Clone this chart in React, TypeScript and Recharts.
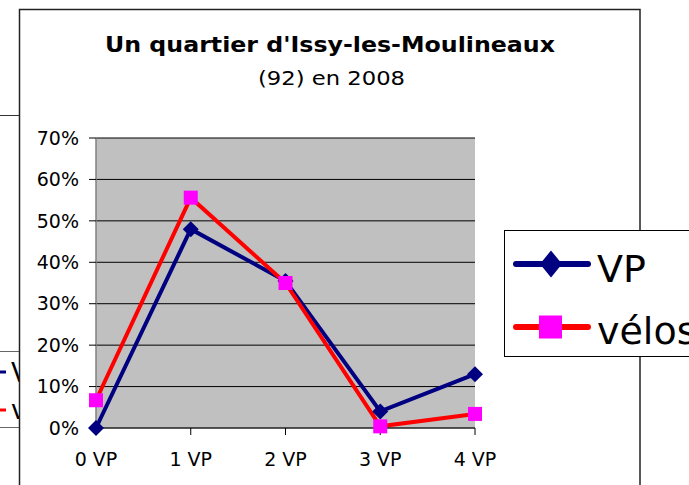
import React from "react";
import {
  LineChart,
  Line,
  XAxis,
  YAxis,
  CartesianGrid,
  Legend,
} from "recharts";

// valeurs (en %)
const categories = ["0 VP", "1 VP", "2 VP", "3 VP", "4 VP"];
const vpValues = [0, 48, 35.5, 4, 13];
const velosValues = [6.7, 55.6, 35, 0.4, 3.4];
const yTicks = [0, 10, 20, 30, 40, 50, 60, 70];

const FONT = "'DejaVu Sans', Verdana, sans-serif";

const data = categories.map((name, i) => ({
  name,
  vp: vpValues[i],
  velos: velosValues[i],
}));

const renderDiamond = (props: any) => {
  const { cx, cy, index } = props;
  if (cx == null || cy == null) return <g key={`vp-${index}`} />;
  return (
    <path
      key={`vp-${index}`}
      d={`M${cx},${cy - 8} L${cx + 8},${cy} L${cx},${cy + 8} L${cx - 8},${cy} Z`}
      fill="#000080"
    />
  );
};

const renderSquare = (props: any) => {
  const { cx, cy, index } = props;
  if (cx == null || cy == null) return <g key={`v-${index}`} />;
  return (
    <rect key={`v-${index}`} x={cx - 7} y={cy - 7} width={14} height={14} fill="#FF00FF" />
  );
};

const LegendBox = () => (
  <svg width={220} height={128} style={{ display: "block" }}>
    <rect x={0.5} y={0.5} width={219} height={126} fill="#fff" stroke="#000" />
    <line x1={12} y1={34} x2={84} y2={34} stroke="#000080" strokeWidth={6} strokeLinecap="round" />
    <path d="M47,20.5 L58,34 L47,47.5 L36,34 Z" fill="#000080" />
    <text x={93} y={52} fontSize={38} fontFamily={FONT} fill="#000">
      VP
    </text>
    <line x1={12} y1={97} x2={84} y2={97} stroke="#FF0000" strokeWidth={6} strokeLinecap="round" />
    <rect x={35} y={85.5} width={23} height={23} fill="#FF00FF" />
    <text x={93} y={114} fontSize={38} fontFamily={FONT} fill="#000">
      vélos
    </text>
  </svg>
);

export default function App() {
  return (
    <div
      style={{
        position: "fixed",
        left: 0,
        top: 0,
        width: 689,
        height: 485,
        overflow: "hidden",
        background: "#fff",
        fontFamily: FONT,
      }}
    >
      <svg width={689} height={485} style={{ position: "absolute", left: 0, top: 0 }}>
        {/* restes d'un autre graphique derrière */}
        <line x1={0} y1={115.5} x2={19} y2={115.5} stroke="#333" />
        <line x1={0} y1={351.5} x2={19} y2={351.5} stroke="#666" />
        <line x1={0} y1={427.5} x2={19} y2={427.5} stroke="#666" />
        <line x1={0} y1={372} x2={6} y2={372} stroke="#000080" strokeWidth={3} />
        <line x1={0} y1={410} x2={6} y2={410} stroke="#FF0000" strokeWidth={3} />
        <text x={11} y={382} fontSize={26} fontFamily={FONT}>V</text>
        <text x={11} y={419} fontSize={26} fontFamily={FONT}>v</text>
        {/* cadre */}
        <rect x={19.5} y={9.5} width={620.5} height={520} fill="#fff" stroke="#222" strokeWidth={1.5} />
        <text
          x={105}
          y={52}
          fontSize={21}
          fontWeight="bold"
          fontFamily={FONT}
          textLength={450}
          lengthAdjust="spacingAndGlyphs"
        >
          Un quartier d'Issy-les-Moulineaux
        </text>
        <text
          x={258}
          y={85}
          fontSize={19}
          fontFamily={FONT}
          textLength={147}
          lengthAdjust="spacingAndGlyphs"
        >
          (92) en 2008
        </text>
      </svg>
      <div style={{ position: "absolute", left: 0, top: 0 }}>
        <LineChart
          width={689}
          height={485}
          data={data}
          margin={{ top: 138, right: 214, left: 36, bottom: 7 }}
        >
          <CartesianGrid vertical={false} stroke="#000" fill="#C0C0C0" fillOpacity={1} />
          <XAxis
            dataKey="name"
            tick={{ fill: "#000", fontSize: 19, fontFamily: FONT }}
            tickSize={7}
            tickMargin={18}
            height={50}
            axisLine={{ stroke: "#333" }}
            tickLine={{ stroke: "#000" }}
            interval={0}
          />
          <XAxis xAxisId="top" orientation="top" height={0} tick={false} tickLine={false} axisLine={{ stroke: "#808080", strokeWidth: 1.5 }} />
          <YAxis
            domain={[0, 70]}
            ticks={yTicks}
            tickFormatter={(v: number) => `${v}%`}
            tick={{ fill: "#000", fontSize: 19, fontFamily: FONT }}
            tickSize={7}
            tickMargin={10}
            width={60}
            axisLine={{ stroke: "#808080", strokeWidth: 1.5 }}
            tickLine={{ stroke: "#000" }}
            interval={0}
          />
          <YAxis yAxisId="right" orientation="right" width={0} tick={false} tickLine={false} axisLine={{ stroke: "#808080", strokeWidth: 1.5 }} />
          <Line
            type="linear"
            dataKey="vp"
            name="VP"
            stroke="#000080"
            strokeWidth={4}
            dot={renderDiamond}
            activeDot={false}
            isAnimationActive={false}
          />
          <Line
            type="linear"
            dataKey="velos"
            name="vélos"
            stroke="#FF0000"
            strokeWidth={4}
            dot={renderSquare}
            activeDot={false}
            isAnimationActive={false}
          />
          <Legend
            layout="horizontal"
            verticalAlign="middle"
            align="center"
            content={() => <LegendBox />}
            wrapperStyle={{ position: "absolute", left: 504, top: 230, width: 220, height: 128 }}
          />
        </LineChart>
      </div>
    </div>
  );
}
